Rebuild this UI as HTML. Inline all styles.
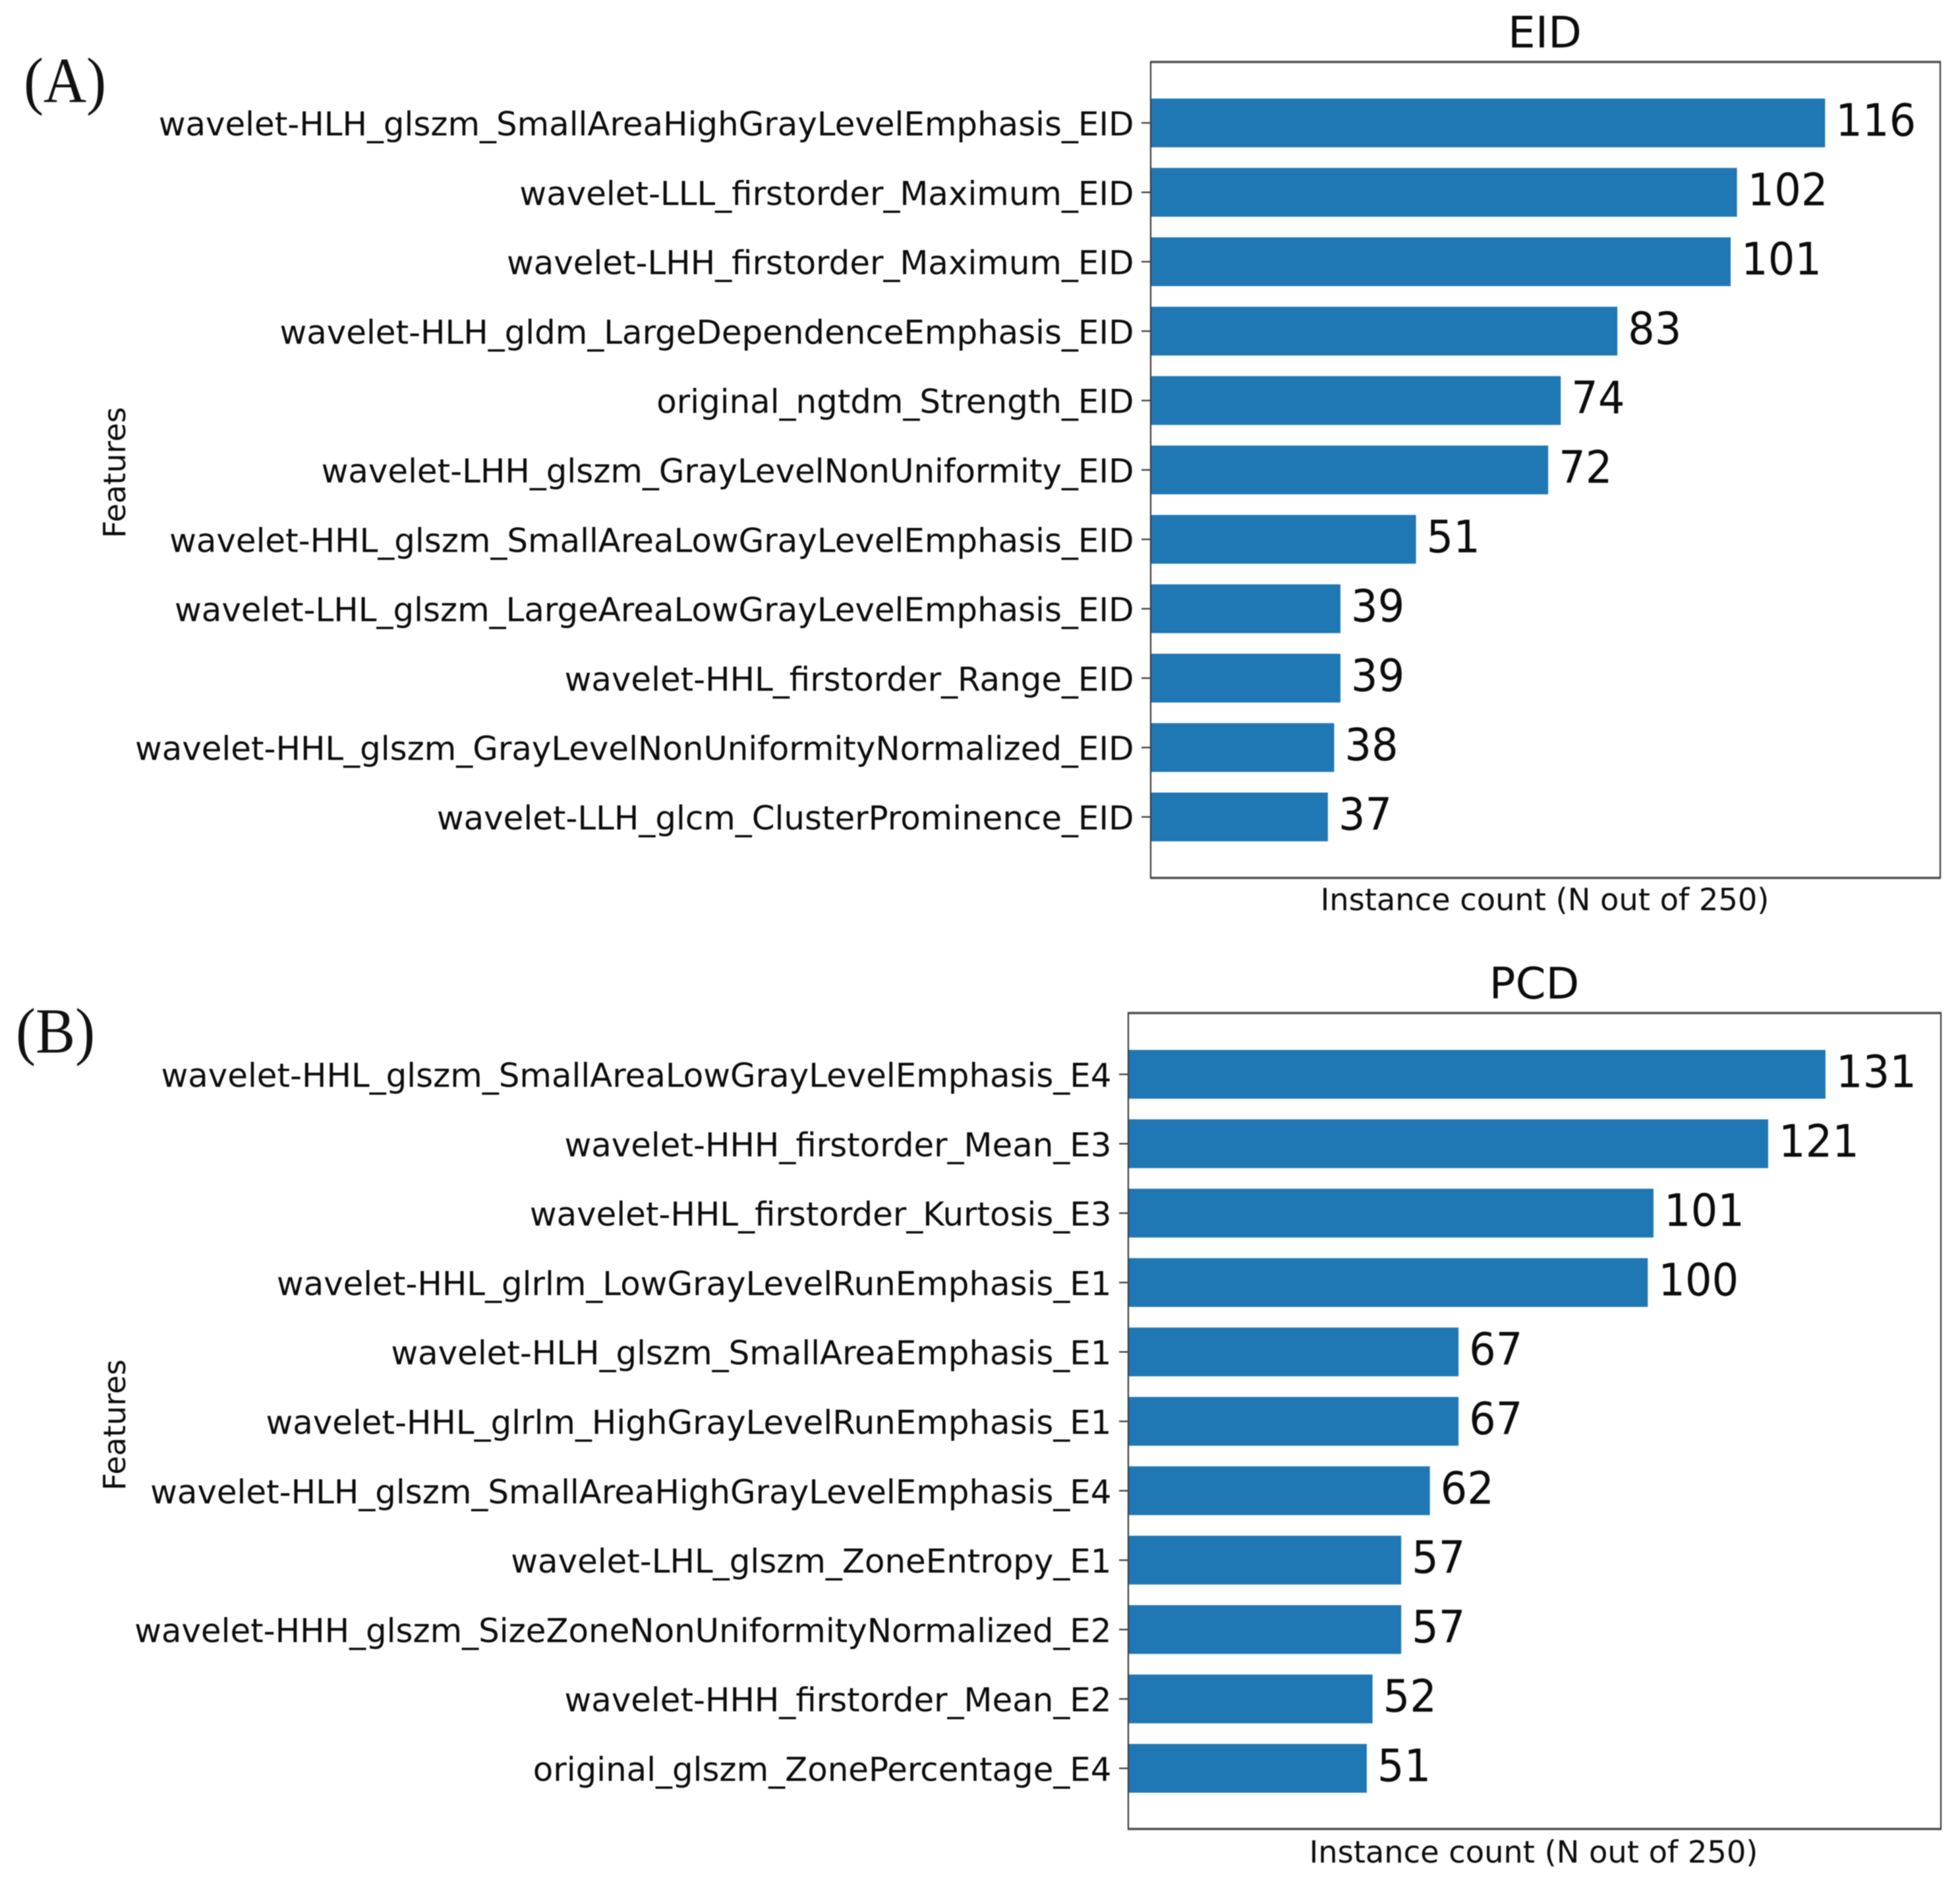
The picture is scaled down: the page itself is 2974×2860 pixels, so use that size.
<!DOCTYPE html>
<html lang="en">
<head>
<meta charset="utf-8">
<title>EID and PCD feature instance counts</title>
<style>
  html, body { margin: 0; padding: 0; background: #ffffff; }
  body { width: 2974px; height: 2860px; overflow: hidden; }
  svg { display: block; filter: blur(0.7px); }
  text { font-family: "DejaVu Sans", "Liberation Sans", sans-serif; fill: #0c0c0c; }
  .panel-letter { font-family: "Liberation Serif", serif; font-size: 98px; fill: #111; }
  .title { font-size: 66px; text-anchor: middle; }
  .axis-title { font-size: 46.3px; text-anchor: middle; }
  .tick-label { font-size: 49.85px; text-anchor: end; }
  .value-label { font-size: 68px; }
</style>
</head>
<body>
<svg id="figure" xmlns="http://www.w3.org/2000/svg" width="2974" height="2860" viewBox="0 0 2974 2860">
  <rect x="0" y="0" width="2974" height="2860" fill="#ffffff"/>
  <text class="panel-letter" transform="translate(36 155) scale(0.92 1)">(A)</text>
  <text class="panel-letter" transform="translate(24 1597) scale(0.92 1)">(B)</text>
  <text class="title" x="2344" y="72">EID</text>
  <text class="title" x="2328" y="1515">PCD</text>
  <text class="axis-title" x="2344" y="1381">Instance count (N out of 250)</text>
  <text class="axis-title" x="2327" y="2826">Instance count (N out of 250)</text>
  <text class="axis-title" transform="translate(190 717) rotate(-90)">Features</text>
  <text class="axis-title" transform="translate(190 2162) rotate(-90)">Features</text>
  <g id="eid-chart"></g>
  <g id="pcd-chart"></g>
</svg>
<script>
const eidFeatures = [
  "wavelet-HLH_glszm_SmallAreaHighGrayLevelEmphasis_EID",
  "wavelet-LLL_firstorder_Maximum_EID",
  "wavelet-LHH_firstorder_Maximum_EID",
  "wavelet-HLH_gldm_LargeDependenceEmphasis_EID",
  "original_ngtdm_Strength_EID",
  "wavelet-LHH_glszm_GrayLevelNonUniformity_EID",
  "wavelet-HHL_glszm_SmallAreaLowGrayLevelEmphasis_EID",
  "wavelet-LHL_glszm_LargeAreaLowGrayLevelEmphasis_EID",
  "wavelet-HHL_firstorder_Range_EID",
  "wavelet-HHL_glszm_GrayLevelNonUniformityNormalized_EID",
  "wavelet-LLH_glcm_ClusterProminence_EID"
];
const eidCounts = [116, 102, 101, 83, 74, 72, 51, 39, 39, 38, 37];

const pcdFeatures = [
  "wavelet-HHL_glszm_SmallAreaLowGrayLevelEmphasis_E4",
  "wavelet-HHH_firstorder_Mean_E3",
  "wavelet-HHL_firstorder_Kurtosis_E3",
  "wavelet-HHL_glrlm_LowGrayLevelRunEmphasis_E1",
  "wavelet-HLH_glszm_SmallAreaEmphasis_E1",
  "wavelet-HHL_glrlm_HighGrayLevelRunEmphasis_E1",
  "wavelet-HLH_glszm_SmallAreaHighGrayLevelEmphasis_E4",
  "wavelet-LHL_glszm_ZoneEntropy_E1",
  "wavelet-HHH_glszm_SizeZoneNonUniformityNormalized_E2",
  "wavelet-HHH_firstorder_Mean_E2",
  "original_glszm_ZonePercentage_E4"
];
const pcdCounts = [131, 121, 101, 100, 67, 67, 62, 57, 57, 52, 51];

const SVG_NS = "http://www.w3.org/2000/svg";

function makeEl(tag, attrs, parent) {
  const el = document.createElementNS(SVG_NS, tag);
  for (const key in attrs) el.setAttribute(key, attrs[key]);
  parent.appendChild(el);
  return el;
}

function drawChart(rootId, prefix, features, counts, frame, xDomainMin, pxPerUnit) {
  const root = document.getElementById(rootId);
  const xScale = function (v) { return frame.left + (v - xDomainMin) * pxPerUnit; };
  const yCenter = function (i) { return frame.firstCenter + i * frame.pitch; };

  counts.forEach(function (count, i) {
    const cy = yCenter(i);

    const bar = makeEl("rect", {
      x: frame.left,
      y: cy - frame.barHeight / 2,
      width: Math.max(0, xScale(count) - frame.left),
      height: frame.barHeight,
      fill: "#1f77b4"
    }, root);
    
    

    const tick = makeEl("line", {
      x1: frame.left - 14,
      x2: frame.left,
      y1: cy,
      y2: cy,
      stroke: "#444",
      "stroke-width": 2.4
    }, root);
    
    

    const tickLabel = makeEl("text", {
      "class": "tick-label",
      x: frame.left - 25.5,
      y: cy + 19
    }, root);
    tickLabel.textContent = features[i];
    
    

    const valueLabel = makeEl("text", {
      "class": "value-label",
      transform: "translate(" + (xScale(count) + 16) + " " + (cy + 19.5) + ") scale(0.94 1)"
    }, root);
    valueLabel.textContent = String(count);
    
    
  });

  const spineTop = makeEl("line", { x1: frame.left - 1, x2: frame.right + 1, y1: frame.top, y2: frame.top, stroke: "#4f4f4f", "stroke-width": 3.6 }, root);
  
  

  const spineBottom = makeEl("line", { x1: frame.left - 1, x2: frame.right + 1, y1: frame.bottom, y2: frame.bottom, stroke: "#4f4f4f", "stroke-width": 3.6 }, root);
  
  

  const spineLeft = makeEl("line", { x1: frame.left, x2: frame.left, y1: frame.top, y2: frame.bottom, stroke: "#3c3c3c", "stroke-width": 2.2 }, root);
  
  

  const spineRight = makeEl("line", { x1: frame.right, x2: frame.right, y1: frame.top, y2: frame.bottom, stroke: "#3c3c3c", "stroke-width": 2.2 }, root);
  
  
}

drawChart("eid-chart", "eid", eidFeatures, eidCounts,
  { left: 1746, right: 2944, top: 94, bottom: 1332, firstCenter: 186.5, pitch: 105.3, barHeight: 74 },
  8.85, 9.55);

drawChart("pcd-chart", "pcd", pcdFeatures, pcdCounts,
  { left: 1712, right: 2945, top: 1537, bottom: 2775, firstCenter: 1630, pitch: 105.3, barHeight: 74 },
  9.4, 8.7);
</script>
</body>
</html>
